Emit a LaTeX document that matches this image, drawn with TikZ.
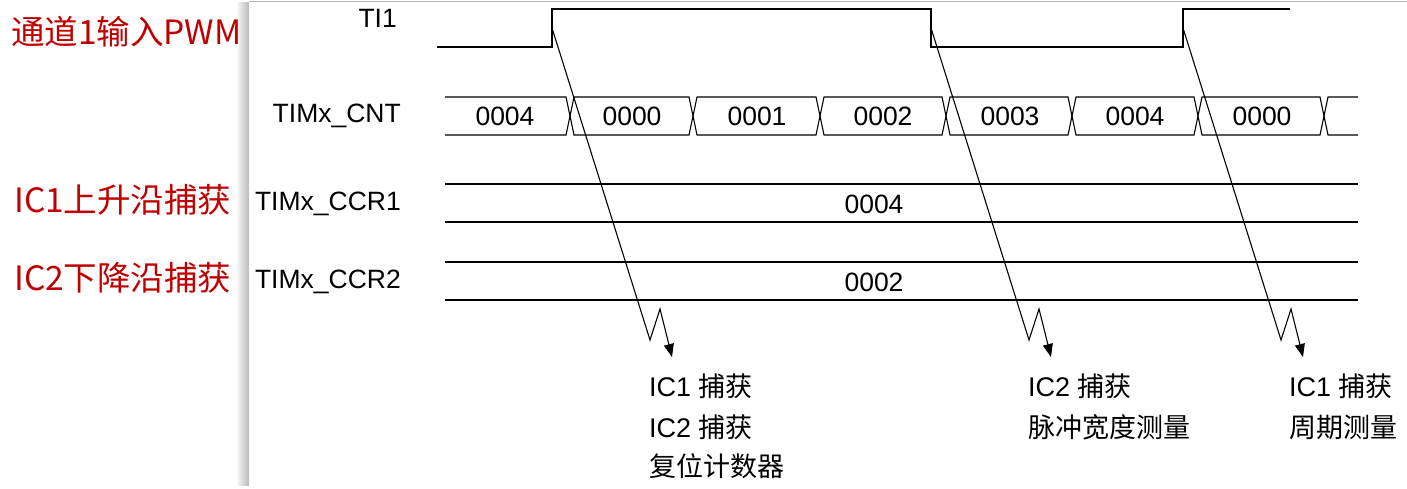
\documentclass[tikz,border=0pt]{standalone}
\usepackage{fontspec}
\setmainfont{Liberation Sans}
\newfontfamily\cjk{Noto Sans CJK SC}
\usetikzlibrary{arrows.meta}
\begin{document}
\begin{tikzpicture}[x=1pt,y=-1pt,
  sig/.style={line width=1.6pt,black},
  bus/.style={line width=1.1pt,black},
  arr/.style={line width=1.1pt,black,-{Triangle[length=13pt,width=10pt]}},
  redlbl/.style={text=red!75!black,font=\cjk\fontsize{33.5}{38}\selectfont,anchor=west,inner sep=0},
  lbl/.style={font=\fontsize{26.5}{30}\selectfont,inner sep=0},
  captext/.style={font=\fontsize{27}{30}\selectfont,inner sep=0,anchor=west}]
\useasboundingbox (0,0) rectangle (1407,488);
% shadow + panel
\foreach \i in {1,...,12}{\fill[black,opacity=0.025] (249-\i,2) rectangle (249,486);}
\fill[white] (249,1) rectangle (1407,484);
\draw[gray!60,line width=1pt] (249,1) -- (1407,1);
% left red labels
\node[redlbl] (l1) at (11,32) {通道1输入PWM};
\node[redlbl] (l2) at (14,200) {IC1上升沿捕获};
\node[redlbl] (l3) at (14,278) {IC2下降沿捕获};
% signal names
\node[lbl,anchor=east] (nti) at (397,18) {TI1};
\node[lbl,anchor=east] (ncnt) at (401,116) {TIMx\_CNT};
\node[lbl,anchor=east] (nc1) at (401,204) {TIMx\_CCR1};
\node[lbl,anchor=east] (nc2) at (401,282) {TIMx\_CCR2};
% TI1 waveform
\coordinate (r1) at (552,28);
\coordinate (f1) at (931,28);
\coordinate (r2) at (1183,28);
\draw[sig] (437,47) -- (552,47) -- (552,9) -- (931,9) -- (931,47) -- (1183,47) -- (1183,9) -- (1290,9);
% CNT bus
\draw[bus] (445,97) -- (566,97) -- (574,135) -- (689,135) -- (697,97) -- (816,97) -- (824,135) -- (942,135) -- (950,97) -- (1068,97) -- (1076,135) -- (1194,135) -- (1202,97) -- (1320,97) -- (1328,135) -- (1358,135);
\draw[bus] (445,135) -- (566,135) -- (574,97) -- (689,97) -- (697,135) -- (816,135) -- (824,97) -- (942,97) -- (950,135) -- (1068,135) -- (1076,97) -- (1194,97) -- (1202,135) -- (1320,135) -- (1328,97) -- (1358,97);
\foreach \x/\t [count=\k] in {505/0004,632/0000,757/0001,883/0002,1010/0003,1135/0004,1262/0000}
  \node[lbl] (cnt\k) at (\x,116) {\t};
% CCR buses
\draw[bus] (445,184) -- (1358,184) (445,222) -- (1358,222);
\node[lbl] (v1) at (874,204) {0004};
\draw[bus] (445,262) -- (1358,262) (445,300) -- (1358,300);
\node[lbl] (v2) at (874,282) {0002};
% arrows
\foreach \s/\dx [count=\k] in {r1/0,f1/379,r2/631}{
  \coordinate (z\k a) at (650+\dx,340);
  \coordinate (z\k b) at (660+\dx,309);
  \coordinate (z\k c) at (672+\dx,357);
  \draw[arr] (\s) -- (z\k a) -- (z\k b) -- (z\k c);
}
% captions
\node[captext] (c1) at (649,386) {IC1 {\cjk 捕获}};
\node[captext] (c2) at (649,427) {IC2 {\cjk 捕获}};
\node[captext] (c3) at (649,466) {\cjk 复位计数器};
\node[captext] (c4) at (1028,386) {IC2 {\cjk 捕获}};
\node[captext] (c5) at (1028,427) {\cjk 脉冲宽度测量};
\node[captext] (c6) at (1289,386) {IC1 {\cjk 捕获}};
\node[captext] (c7) at (1289,427) {\cjk 周期测量};
\end{tikzpicture}
\end{document}
